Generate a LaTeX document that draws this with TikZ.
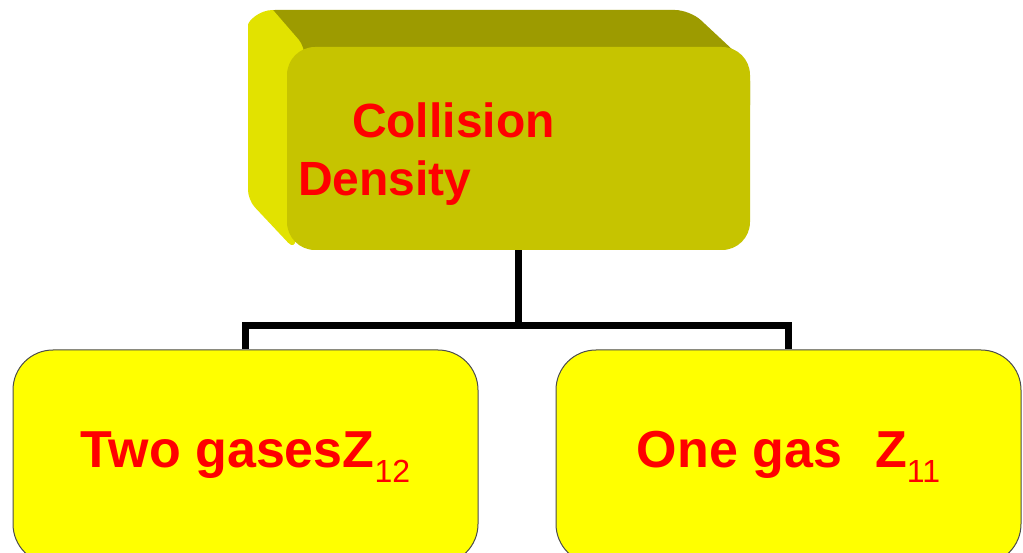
\documentclass[tikz,border=0pt]{standalone}
\usepackage{fontspec}
\setmainfont{Liberation Sans}
\usetikzlibrary{positioning}
\definecolor{topface}{RGB}{157,155,0}
\definecolor{sideface}{RGB}{226,226,0}
\definecolor{frontface}{RGB}{198,196,0}
\definecolor{boxyellow}{RGB}{255,255,0}
\definecolor{textred}{RGB}{255,0,0}
\newcommand\lowidx[1]{\raisebox{-15pt}{\fontsize{32}{32}\selectfont\mdseries #1}}

\begin{document}
\begin{tikzpicture}[x=1pt,y=-1pt,
	box/.style={draw=black!70,line width=1pt,fill=boxyellow,rounded corners=40pt,
		minimum width=465pt,minimum height=214pt,inner sep=0pt,text=textred,
		font=\bfseries\fontsize{52}{60}\selectfont},
	conn/.style={line width=7pt}]

		\clip (0,0) rectangle (1023,553) ;
		\fill [white] (0,0) rectangle (1023,553) ;

		% back of the top box
		\fill [topface,rounded corners=15pt] (260,10)--(690,10)--(750,66)--(750,120)--(300,120)--cycle ;
		\fill [sideface] (248,35) arc [start angle=180,end angle=270,radius=25]
			[rounded corners=10pt] --(305,47)--(295,250)--(248,200)--cycle ;

		\node (cd) [fill=frontface,rounded corners=28pt,minimum width=463pt,minimum height=203pt,
			inner sep=0pt,label={[text width=441pt,align=left,text=textred,yshift=-6pt,
			font=\bfseries\fontsize{48}{58}\selectfont]center:\hspace*{54pt}Collision\\Density}]
			at (518.5,148.5) {} ;

		\node (two) [box] at (245.5,457) {Two gasesZ\lowidx{12}} ;
		\node (one) [box] at (788.5,457) {One gas\hspace*{33pt}Z\lowidx{11}} ;

		\path (cd.south) ++(0,75) coordinate (bus) ;
		\draw [conn] (cd.south)--(bus) ;
		\foreach \b in {two,one}
			\draw [conn] (bus) -| (\b.north) ;

\end{tikzpicture}
\end{document}
